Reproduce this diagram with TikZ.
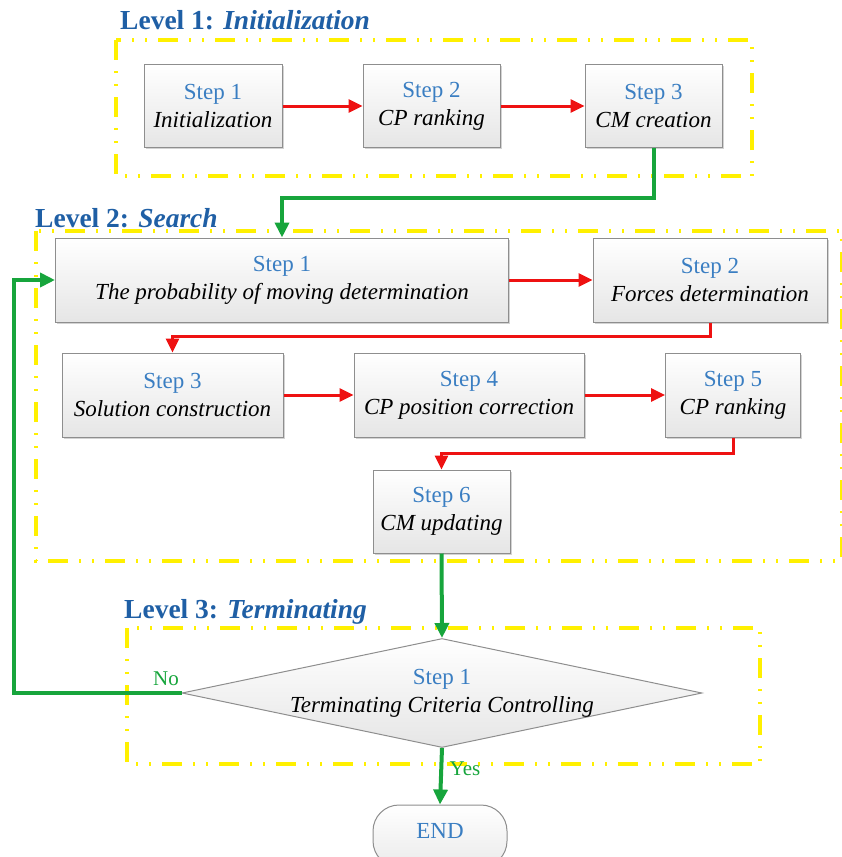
\documentclass[tikz,border=0pt]{standalone}
\usepackage{fontspec}
\setmainfont{Liberation Serif}
\usetikzlibrary{arrows.meta,shapes.geometric,shadows}
\definecolor{titleblue}{HTML}{1F5FA5}
\definecolor{stepblue}{HTML}{3A7EC2}
\definecolor{arrred}{HTML}{EE1111}
\definecolor{arrgreen}{HTML}{17A53C}
\definecolor{lvlyellow}{HTML}{FFF000}
\definecolor{boxborder}{HTML}{8E8E8E}
\tikzset{
  stepbox/.style={draw=boxborder, line width=1pt, top color=white, bottom color=black!10,
    drop shadow={shadow xshift=1.5pt, shadow yshift=-1.5pt, opacity=0.35},
    align=center, inner sep=0pt, minimum height=83pt,
    font=\fontsize{23}{28}\selectfont},
  decbox/.style={draw=boxborder, line width=1pt, diamond, top color=white, bottom color=black!10,
    inner sep=0pt, minimum width=520pt, minimum height=109pt},
  endbox/.style={draw=boxborder, line width=1pt, rounded corners=26pt, top color=white, bottom color=black!8,
    minimum width=134pt, minimum height=62pt, inner sep=0pt},
  lvlbox/.style={draw=lvlyellow, line width=3.5pt,
    dash pattern=on 20pt off 11pt on 2pt off 11pt on 2pt off 11pt},
  lvltitle/.style={anchor=base west, text=titleblue, font=\fontsize{27.5}{30}\selectfont\bfseries, inner sep=0pt},
  redarrow/.style={draw=arrred, line width=3pt, -{Triangle[length=14pt,width=13pt]}},
  greenarrow/.style={draw=arrgreen, line width=4pt, -{Triangle[length=15pt,width=14pt]}},
  yn/.style={text=arrgreen, font=\fontsize{21}{24}\selectfont, inner sep=0pt}
}
\newcommand{\stp}[2]{\textcolor{stepblue}{#1}\\\textit{#2}}
\begin{document}
\begin{tikzpicture}[x=1pt,y=-1pt]
\useasboundingbox (0,0) rectangle (842,857);

% level frames
\draw[lvlbox] (116,40) rectangle (752,176);
\draw[lvlbox] (36,231) rectangle (842,561);
\draw[lvlbox] (127,628) rectangle (760,764);

% titles
\node[lvltitle] (t1) at (120,29) {Level 1: \textit{Initialization}};
\node[lvltitle] (t2) at (35,227) {Level 2: \textit{Search}};
\node[lvltitle] (t3) at (124,618) {Level 3: \textit{Terminating}};

% level 1
\node[stepbox, minimum width=138pt] (a1) at (213,106) {\stp{Step 1}{Initialization}};
\node[stepbox, minimum width=137pt] (a2) at (431.5,106) {\stp{Step 2}{CP ranking}};
\node[stepbox, minimum width=137pt] (a3) at (653.5,106) {\stp{Step 3}{CM creation}};

% level 2
\node[stepbox, minimum width=453pt, minimum height=84pt] (s1) at (282,280) {\stp{Step 1}{The probability of moving determination}};
\node[stepbox, minimum width=234pt, minimum height=84pt] (s2) at (710,280) {\stp{Step 2}{Forces determination}};
\node[stepbox, minimum width=221pt, minimum height=84pt] (s3) at (172.5,395) {\stp{Step 3}{Solution construction}};
\node[stepbox, minimum width=230pt, minimum height=84pt] (s4) at (469,395) {\stp{Step 4}{CP position correction}};
\node[stepbox, minimum width=135pt, minimum height=84pt] (s5) at (733,395) {\stp{Step 5}{CP ranking}};
\node[stepbox, minimum width=137pt] (s6) at (441.5,511.5) {\stp{Step 6}{CM updating}};

% level 3
\node[decbox] (d) at (442,693) {};
\node[align=center, font=\fontsize{23}{28}\selectfont, inner sep=0pt] (dt) at (442,693) {\stp{Step 1}{Terminating Criteria Controlling}};
\node[endbox] (e) at (440,836) {};
\node[text=stepblue, font=\fontsize{23}{26}\selectfont, inner sep=0pt] (et) at (440,831) {END};

% red arrows
\draw[redarrow] (a1) -- (a2);
\draw[redarrow] (a2) -- (a3);
\draw[redarrow] (s1) -- (s2);
\draw[redarrow] (s2.south) -- ++(0,14) -| (s3.north);
\draw[redarrow] (s3) -- (s4);
\draw[redarrow] (s4) -- (s5);
\draw[redarrow] (s5.south) -- ++(0,16) -| (s6.north);

% green arrows
\draw[greenarrow] (a3.south) -- ++(0,50) -| (s1.north);
\draw[greenarrow] (s6.south) -- (d.north);
\draw[greenarrow] (d.west) -- ++(-168,0) |- (s1.west);
\draw[greenarrow] (d.south) -- (e.north);

% labels
\node[yn] (no) at (166,679) {No};
\node[yn] (yes) at (465,769) {Yes};
\end{tikzpicture}
\end{document}
